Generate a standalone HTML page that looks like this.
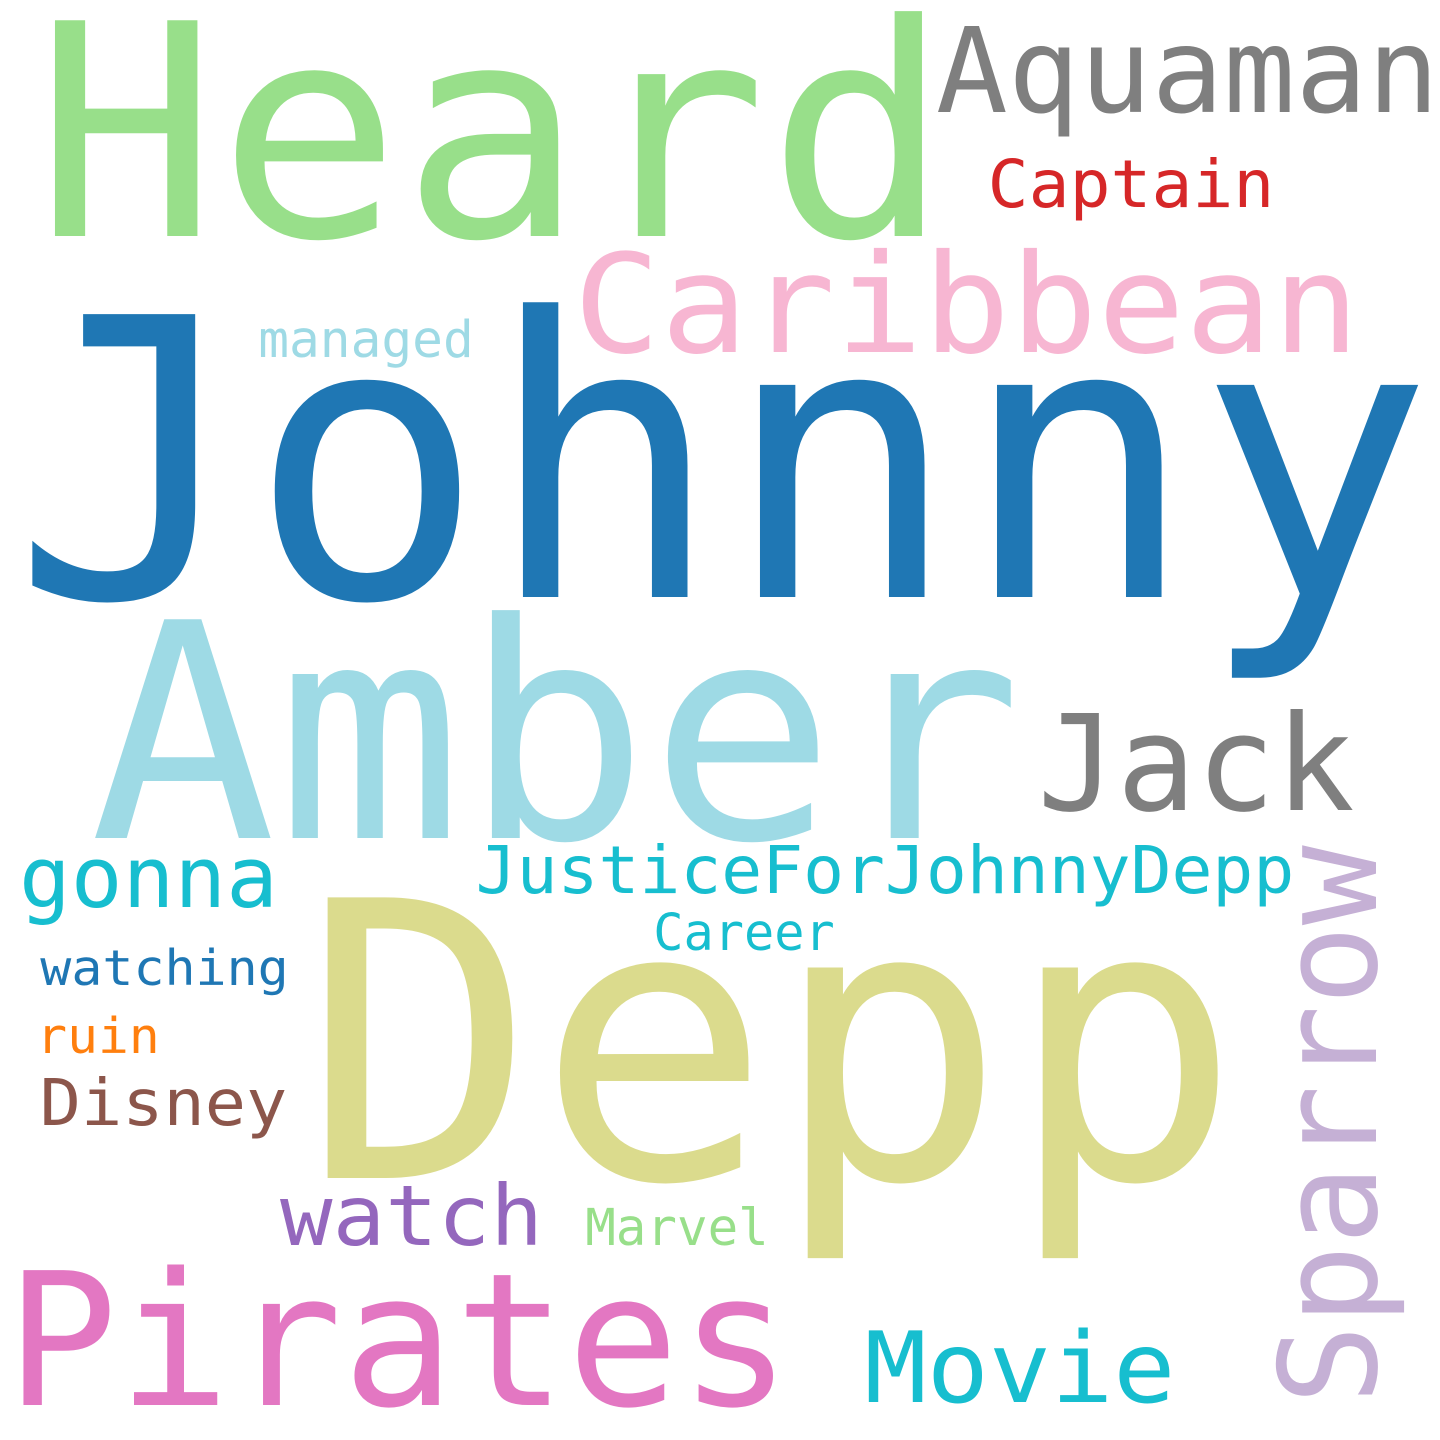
<!DOCTYPE html>
<html><head><meta charset="utf-8"><style>
html,body{margin:0;padding:0;background:#fff;}
svg{display:block;}
text{font-family:"DejaVu Sans Mono","Liberation Mono",monospace;}
</style></head>
<body>
<svg id="cloud" width="1440" height="1440" viewBox="0 0 1440 1440" xmlns="http://www.w3.org/2000/svg">
<rect width="1440" height="1440" fill="#fff"/>
</svg>
<script>
const words = ["Johnny","Heard","Aquaman","Captain","Caribbean","managed","Amber","Jack","gonna","JusticeForJohnnyDepp","Career","watching","ruin","Disney","Depp","watch","Marvel","Pirates","Movie","Sparrow"];
const sizes = [388,296,118,66,137,51,300,133,85,66,51,49,49,64,385,84,51,185,98,135];
const colors = ["#1f77b4","#98df8a","#7f7f7f","#d62728","#f7b6d2","#9edae5","#9edae5","#7f7f7f","#17becf","#17becf","#17becf","#1f77b4","#ff7f0e","#8c564b","#dbdb8d","#9467bd","#98df8a","#e377c2","#17becf","#c5b0d5"];
const svg = document.getElementById('cloud');
const NS = "http://www.w3.org/2000/svg";
// layout: [glyph left, baseline, glyph span, rotated]
const layout = [
 [25,597,1395,0],[45,236,895,0],[940,112,495,0],[990,207,282,0],[578,352,777,0],
 [260,357,212,0],[100,838,912,0],[1042,810,308,0],[22,907,253,0],[478,893,814,0],
 [655,950,178,0],[42,985,245,0],[38,1053,120,0],[42,1125,243,0],[315,1178,913,0],
 [283,1245,257,0],[587,1245,180,0],[12,1405,773,0],[868,1402,304,0],[1376,1400,550,1]
];
words.forEach((w,i)=>{
  const L = layout[i];
  const fs = sizes[i];
  const pad = 0.035 * fs;
  const t = document.createElementNS(NS,'text');
  
  
  t.setAttribute('font-size', fs);
  t.setAttribute('fill', colors[i]);
  t.setAttribute('textLength', L[2] + 2 * pad);
  t.setAttribute('lengthAdjust', 'spacingAndGlyphs');
  if (L[3]) {
    t.setAttribute('transform', 'translate(' + L[0] + ',' + (L[1] + pad) + ') rotate(-90)');
    t.setAttribute('x', 0); t.setAttribute('y', 0);
  } else {
    t.setAttribute('x', L[0] - pad); t.setAttribute('y', L[1]);
  }
  t.textContent = w;
  svg.appendChild(t);
});
</script>
</body></html>
